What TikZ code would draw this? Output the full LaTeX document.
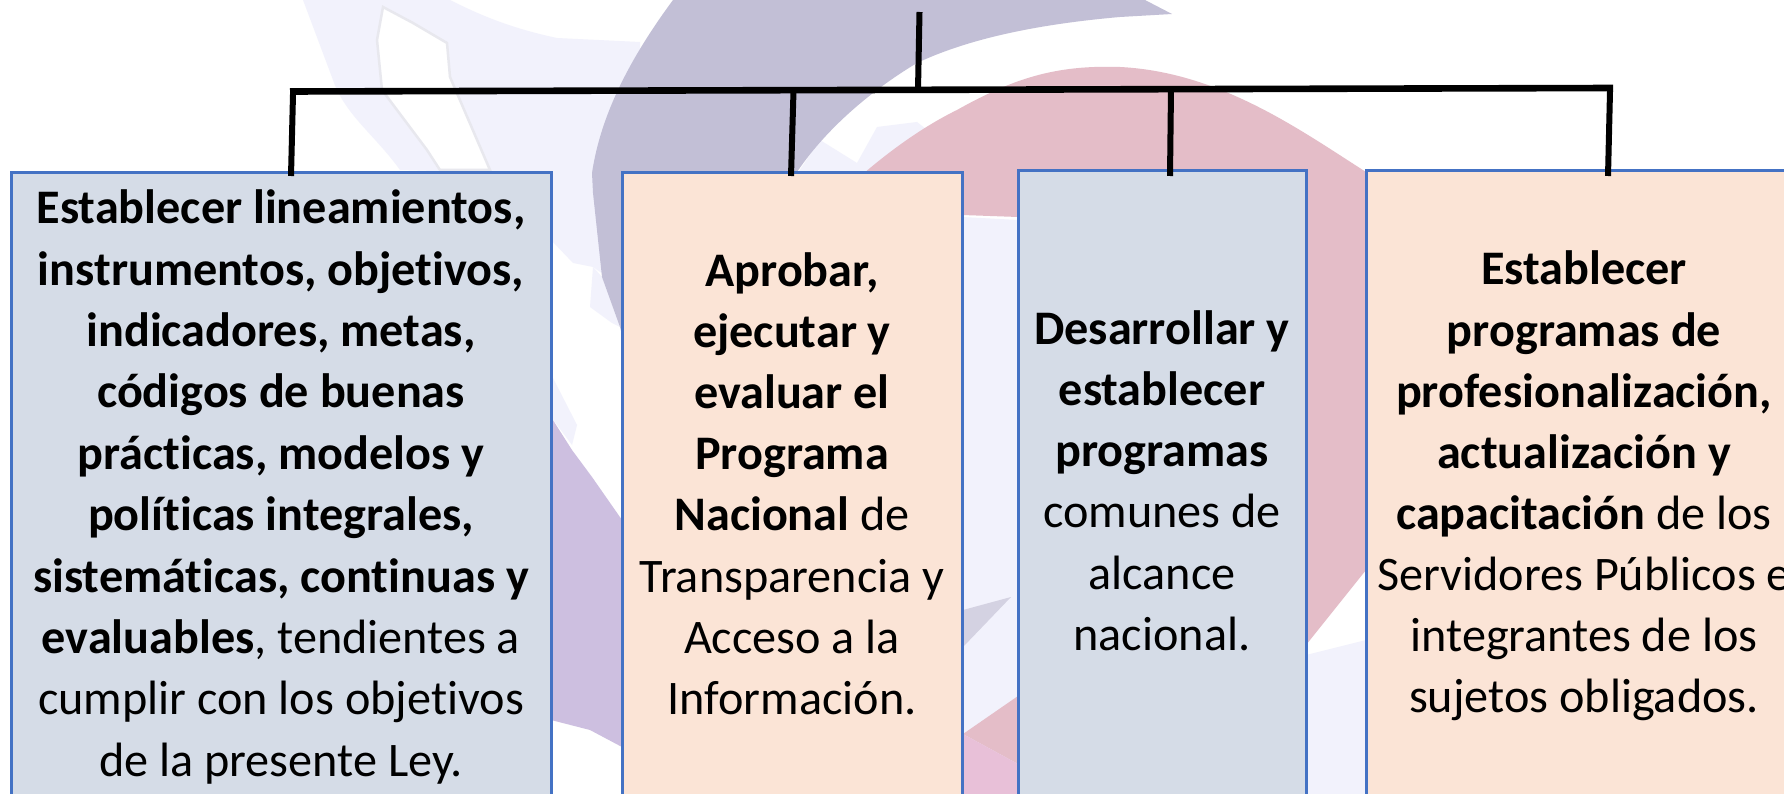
\documentclass[tikz,border=0pt]{standalone}
\usepackage{fontspec}
\setmainfont[Ligatures=NoCommon]{Carlito}
\definecolor{wmLav}{HTML}{F2F2FC}
\definecolor{wmPurple}{HTML}{C2BFD6}
\definecolor{wmLilac}{HTML}{CDBFE0}
\definecolor{wmPink}{HTML}{E4BDC8}
\definecolor{wmPinkB}{HTML}{E8C0D8}
\definecolor{wmEdge}{HTML}{E8E8EE}
\definecolor{boxBlue}{HTML}{D5DCE7}
\definecolor{boxPeach}{HTML}{FBE4D6}
\definecolor{boxEdge}{HTML}{4472C4}
\tikzset{
  bluebox/.style={draw=boxEdge,line width=3pt,fill=boxBlue,inner sep=0pt,align=center,
    font=\fontsize{48.2}{61.4}\selectfont,text=black},
  peachbox/.style={bluebox,fill=boxPeach},
  tightlines/.style={font=\fontsize{48.2}{61.1}\selectfont},
  linkline/.style={draw=black,line width=6pt,line cap=butt}
}
\begin{document}
\begin{tikzpicture}[x=1pt,y=-1pt]
\useasboundingbox (0,0) rectangle (1784,794);
\clip (0,0) rectangle (1784,794);
\fill[white] (0,0) rectangle (1784,794);
% watermark
\fill[wmLav] (303,0) -- (450,0) .. controls (480,15) and (510,28) .. (557,38) -- (640,42) -- (640,300) -- (593,267) -- (573,263) -- (553,242) -- (540,174) -- (400,170) .. controls (375,135) and (345,115) .. (333,80) -- cycle;
\fill[white,draw=wmEdge,line width=2.5pt] (383,7) -- (413,23) -- (447,43) -- (450,77) -- (490,170) -- (440,170) -- (427,150) -- (382,90) -- (377,40) -- cycle;
\fill[wmLav] (593,267) -- (602,277) -- (620,327) -- (612,323) -- (590,307) -- cycle;
\fill[wmLav] (553,378) -- (577,425) -- (572,445) -- (551,417) -- cycle;
\fill[wmLilac] (551,417) -- (572,450) -- (592,477) -- (622,520) -- (622,747) -- (590,730) -- (551,720) -- cycle;
\fill[wmLav] (797,174) -- (820,140) -- (857,163) -- (877,127) -- (917,122) -- (940,140) -- (880,174) -- cycle;
\fill[wmPink] (863,174) .. controls (885,155) and (920,128) .. (957,110) .. controls (980,97) and (1005,85) .. (1028,78) .. controls (1060,68) and (1090,66) .. (1120,67) .. controls (1220,72) and (1300,130) .. (1366,172) -- (1366,570) -- (1306,645) -- (1306,300) -- (1018,217) -- (962,215) -- (962,174) -- cycle;
\fill[wmLav] (962,217) -- (1018,220) -- (1018,794) -- (962,794) -- cycle;
\fill[wmPurple] (673,0) -- (1145,0) -- (1172,14) -- (1120,17) .. controls (1040,24) and (970,38) .. (917,63) .. controls (880,85) and (830,123) .. (797,172) -- (622,335) -- (620,327) -- (602,277) -- (593,193) -- (592,173) .. controls (600,120) and (625,65) .. (673,0) -- cycle;
\fill[wmPurple!70!white] (963,610) -- (1011,597) -- (963,647) -- cycle;
\fill[wmPink] (1018,696) -- (963,734) -- (1018,764) -- cycle;
\fill[wmPinkB] (963,734) -- (1018,764) -- (1018,794) -- (963,794) -- cycle;
\fill[wmLav] (1306,655) -- (1366,640) -- (1366,794) -- (1306,794) -- cycle;
% boxes
\node[bluebox,minimum width=540pt,minimum height=628pt] (b1) at (281,487) {\textbf{Establecer lineamientos,}\\\textbf{instrumentos, objetivos,}\\\textbf{indicadores, metas,}\\\textbf{códigos de buenas}\\\textbf{prácticas, modelos y}\\\textbf{políticas integrales,}\\\textbf{sistemáticas, continuas y}\\\textbf{evaluables}, tendientes a\\cumplir con los objetivos\\de la presente Ley.};
\node[peachbox,tightlines,minimum width=340pt,minimum height=642pt] (b2) at (792,494) {\textbf{Aprobar,}\\\textbf{ejecutar y}\\\textbf{evaluar el}\\\textbf{Programa}\\\textbf{Nacional} de\\Transparencia y\\Acceso a la\\Información.\\[-40pt]\mbox{}};
\node[bluebox,tightlines,minimum width=288pt,minimum height=640pt] (b3) at (1162,491) {\textbf{Desarrollar y}\\\textbf{establecer}\\\textbf{programas}\\comunes de\\alcance\\nacional.\\[-40pt]\mbox{}};
\node[peachbox,tightlines,minimum width=436pt,minimum height=630pt] (b4) at (1584,486) {\textbf{Establecer}\\\textbf{programas de}\\\textbf{profesionalización,}\\\textbf{actualización y}\\\textbf{capacitación} de los\\Servidores Públicos e\\integrantes de los\\sujetos obligados.};
% connectors
\coordinate (top) at (919.5,12);
\coordinate (jc) at (918,90);
\coordinate (j1) at (293,91.5);
\coordinate (j2) at (793.5,91);
\coordinate (j3) at (1171,89.5);
\coordinate (j4) at (1610,88);
\coordinate (e1) at (291,176);
\coordinate (e2) at (791,176);
\coordinate (e3) at (1170,176);
\coordinate (e4) at (1608,176);
\draw[linkline] (top) -- (jc);
\draw[linkline,line width=6.6pt] ([xshift=-3pt]j1) -- ([xshift=3pt]j4);
\draw[linkline] ([yshift=-3pt]j1) -- (e1);
\draw[linkline] (j2) -- (e2);
\draw[linkline] (j3) -- (e3);
\draw[linkline] ([yshift=-3pt]j4) -- (e4);
\end{tikzpicture}
\end{document}
